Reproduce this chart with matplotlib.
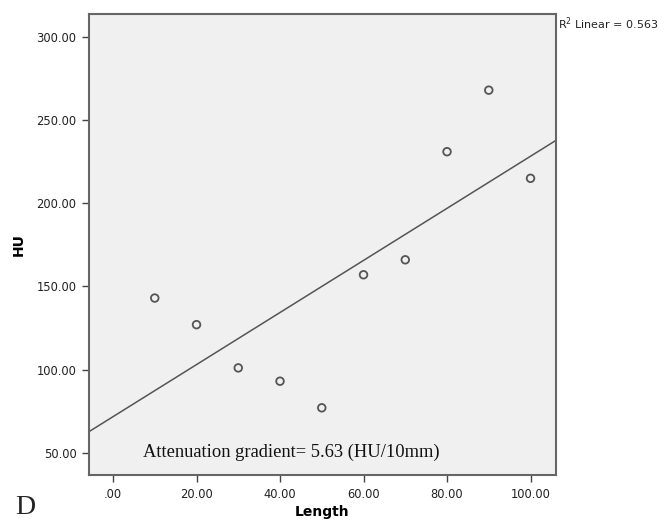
import numpy as np
import matplotlib
matplotlib.use('Agg')
import matplotlib.pyplot as plt

# ── Data ────────────────────────────────────────────────
length = [10, 20, 30, 40, 50, 60, 70, 80, 90, 100]
hu     = [143, 127, 101, 93, 77, 157, 166, 231, 268, 215]
xticks = [0, 20, 40, 60, 80, 100]
yticks = [50, 100, 150, 200, 250, 300]

x = np.array(length, dtype=float)
y = np.array(hu, dtype=float)
slope, icpt = np.polyfit(x, y, 1)

fig = plt.figure(figsize=(6.7, 5.22), dpi=100)
ax = fig.add_axes([89/670, 1 - 475/522, (556-89)/670, (475-14)/522])
ax.set_facecolor('#f0f0f0')

xlim = (-5.75, 106.1)
ax.set_xlim(*xlim)
ax.set_ylim(36.6, 313.8)

xs = np.array(xlim)
ax.plot(xs, slope*xs + icpt, color='#555555', lw=1.1, zorder=2)
ax.scatter(x, y, s=30, facecolors='none', edgecolors='#555555', linewidths=1.3, zorder=3)

ax.set_xticks(xticks)
ax.set_xticklabels(['.00'] + [f'{v:.2f}' for v in xticks[1:]])
ax.set_yticks(yticks)
ax.set_yticklabels([f'{v:.2f}' for v in yticks])
ax.tick_params(direction='out', length=5, width=1, color='#444444',
               labelsize=8.3, labelcolor='#222222', pad=4)
for s in ax.spines.values():
    s.set_color('#666666')
    s.set_linewidth(1.5)

ax.set_xlabel('Length', fontsize=10, fontweight='bold', labelpad=3)
ax.set_ylabel('HU', fontsize=10, fontweight='bold', labelpad=8)

ax.text(7.3, 50, 'Attenuation gradient= 5.63 (HU/10mm)', family='Liberation Serif',
        fontsize=13.3, va='center', ha='left', color='#111111')

fig.text(558/670, 1 - 24/522, r'R$^2$ Linear = 0.563', fontsize=8,
         va='center', ha='left', color='#222222')
fig.text(15/670, 1 - 507/522, 'D', family='Liberation Serif', fontsize=20,
         va='center', ha='left', color='#222222')

fig.savefig('out.png', dpi=100, facecolor='white')
